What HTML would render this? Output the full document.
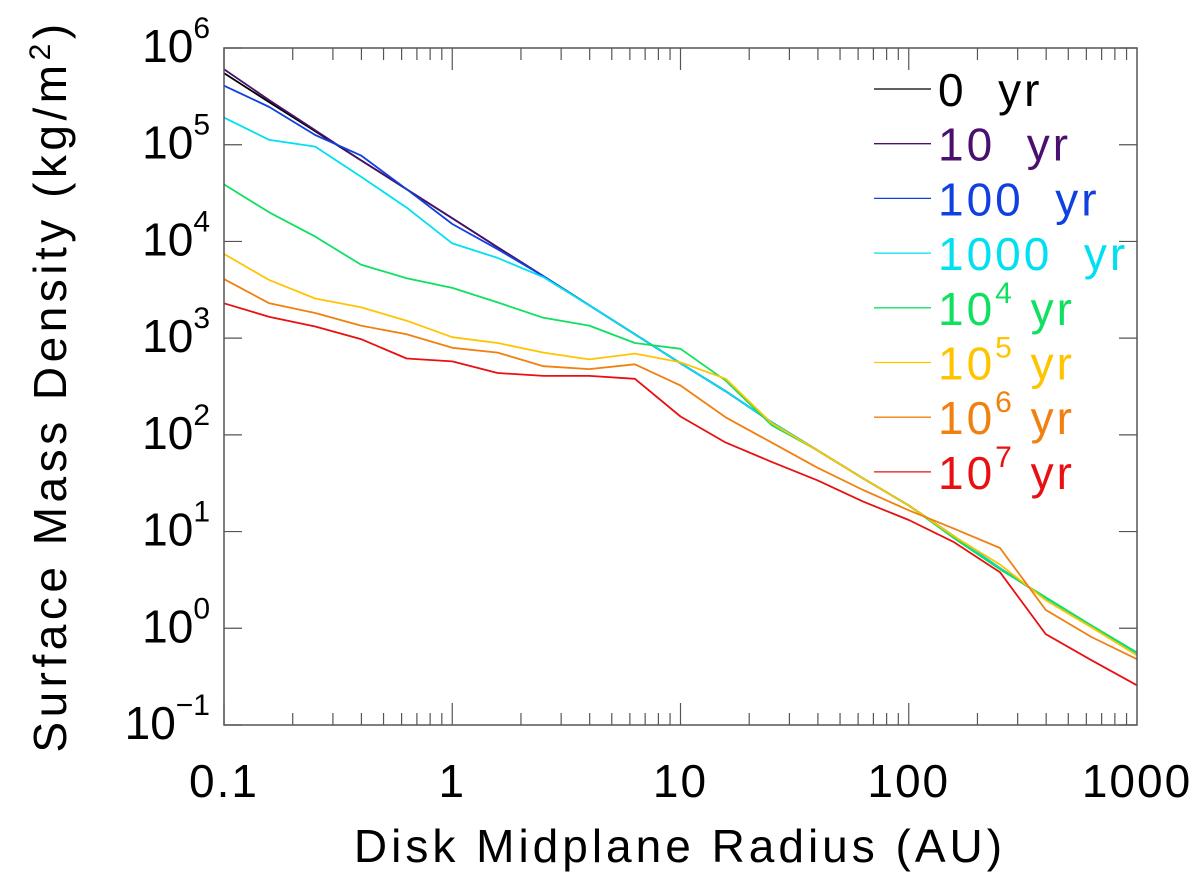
<!DOCTYPE html>
<html><head><meta charset="utf-8"><style>
html,body{margin:0;padding:0;background:#fff;}
svg{display:block;font-family:"Liberation Sans","DejaVu Sans",sans-serif;}
</style></head><body>
<svg id="chart" width="1200" height="879" viewBox="0 0 1200 879" xmlns="http://www.w3.org/2000/svg">
<g id="lines"></g>
<rect x="224" y="48" width="913" height="677" fill="none" stroke="#555" stroke-width="1.5"/>
<g id="ticks"></g>
<g id="labels" font-size="46" fill="#000"></g>
<text x="680" y="862" font-size="46" text-anchor="middle" letter-spacing="4">Disk Midplane Radius (AU)</text>
<text transform="translate(66,386) rotate(-90)" font-size="46" text-anchor="middle" letter-spacing="4.5">Surface Mass Density (kg/m<tspan baseline-shift="super" font-size="30">2</tspan>)</text>
<g id="legend"></g>
</svg>
<script>
const radii = [0.1,0.158,0.251,0.398,0.631,1,1.58,2.51,3.98,6.31,10,15.8,25.1,39.8,63.1,100,158,251,398,631,1000];
const logSigma0yr  = [5.74,5.44,5.14,4.84,4.54,4.24,3.94,3.64,3.34,3.04,2.74,2.45,2.13,1.84,1.55,1.27,0.95,0.62,0.31,0.02,-0.26];
const logSigma10yr = [5.78,5.46,5.15,4.84,4.54,4.24,3.94,3.64,3.34,3.04,2.74,2.45,2.13,1.84,1.55,1.27,0.95,0.62,0.31,0.02,-0.26];
const logSigma100yr= [5.61,5.39,5.10,4.89,4.54,4.18,3.92,3.64,3.34,3.04,2.74,2.45,2.13,1.84,1.55,1.27,0.95,0.62,0.31,0.02,-0.26];
const logSigma1e3yr= [5.28,5.05,4.98,4.67,4.35,3.98,3.83,3.63,3.34,3.04,2.74,2.45,2.13,1.84,1.55,1.27,0.95,0.62,0.31,0.02,-0.26];
const logSigma1e4yr= [4.59,4.30,4.05,3.76,3.62,3.52,3.37,3.21,3.13,2.95,2.89,2.56,2.10,1.84,1.55,1.27,0.93,0.61,0.32,0.03,-0.25];
const logSigma1e5yr= [3.87,3.60,3.41,3.32,3.18,3.01,2.95,2.85,2.78,2.84,2.75,2.58,2.12,1.84,1.55,1.27,0.95,0.66,0.29,0.01,-0.28];
const logSigma1e6yr= [3.61,3.36,3.26,3.13,3.04,2.90,2.85,2.71,2.68,2.73,2.51,2.18,1.92,1.66,1.43,1.22,1.03,0.83,0.19,-0.09,-0.32];
const logSigma1e7yr= [3.36,3.22,3.12,2.99,2.79,2.76,2.64,2.61,2.61,2.58,2.19,1.92,1.72,1.53,1.31,1.12,0.89,0.58,-0.06,-0.33,-0.59];
const seriesNames = ["0 yr","10 yr","100 yr","1000 yr","10^4 yr","10^5 yr","10^6 yr","10^7 yr"];
const seriesColors = ["#000000","#4a106e","#1040e0","#00e0f0","#10e060","#ffc400","#f08010","#e81010"];
const xTickValues = [0.1,1,10,100,1000];
const xTickLabels = ["0.1","1","10","100","1000"];
const yTickExps = [-1,0,1,2,3,4,5,6];

const allSeries=[logSigma0yr,logSigma10yr,logSigma100yr,logSigma1e3yr,logSigma1e4yr,logSigma1e5yr,logSigma1e6yr,logSigma1e7yr];
const X0=224,X1=1137,Y0=725,Y1=48;
function xs(r){return X0+(Math.log10(r)+1)/4*(X1-X0);}
function ys(l){return Y0-(l+1)/7*(Y0-Y1);}
const NS="http://www.w3.org/2000/svg";
function mk(t,a,p){const e=document.createElementNS(NS,t);for(const k in a)e.setAttribute(k,a[k]);p.appendChild(e);return e;}
const gl=document.getElementById('lines');
allSeries.forEach((s,i)=>{
  const pts=s.map((v,j)=>xs(radii[j]).toFixed(1)+','+ys(v).toFixed(1)).join(' ');
  const pl=mk('polyline',{points:pts,fill:'none',stroke:seriesColors[i],'stroke-width':1.8,'stroke-linejoin':'round'},gl);
  
  
});
const gt=document.getElementById('ticks');
for(let d=-1;d<3;d++){for(let m=1;m<10;m++){const v=m*Math.pow(10,d);const x=xs(v);const L=m===1?22:12;
  mk('line',{x1:x,y1:Y0,x2:x,y2:Y0-L,stroke:'#555','stroke-width':1.2},gt);
  mk('line',{x1:x,y1:Y1,x2:x,y2:Y1+L,stroke:'#555','stroke-width':1.2},gt);}}
yTickExps.forEach(e=>{const y=ys(e);
  mk('line',{x1:X0,y1:y,x2:X0+18,y2:y,stroke:'#555','stroke-width':1.2},gt);
  mk('line',{x1:X1,y1:y,x2:X1-18,y2:y,stroke:'#555','stroke-width':1.2},gt);});
const gb=document.getElementById('labels');
xTickValues.forEach((v,i)=>{const t=mk('text',{x:xs(v),y:797,'text-anchor':'middle','letter-spacing':2},gb);t.textContent=xTickLabels[i];
  
  });
yTickExps.forEach(e=>{const y=ys(e)+14;const t=mk('text',{x:210,y:y,'text-anchor':'end'},gb);
  const a=mk('tspan',{},t);a.textContent='10';
  const s=mk('tspan',{dy:-24,'font-size':30},t);s.textContent=e<0?'\u2212'+(-e):String(e);
  
  });
const lg=document.getElementById('legend');
seriesNames.forEach((n,i)=>{const y=89+i*54.7;
  const ln=mk('line',{x1:874,y1:y,x2:931,y2:y,stroke:seriesColors[i],'stroke-width':1.3},lg);
  
  
  const t=mk('text',{x:938,y:y+17,'font-size':46,fill:seriesColors[i],'letter-spacing':3},lg);
  
  
  if(n.indexOf('^')>0){const p=n.split('^');const e=p[1].split(' ')[0];
    const a=mk('tspan',{},t);a.textContent='10';
    const b=mk('tspan',{dy:-22,'font-size':30},t);b.textContent=e;
    const c=mk('tspan',{dy:22},t);c.textContent='\u00a0yr';
  } else { t.textContent=n.replace(' ','\u00a0\u00a0'); }
});
</script>
</body></html>
